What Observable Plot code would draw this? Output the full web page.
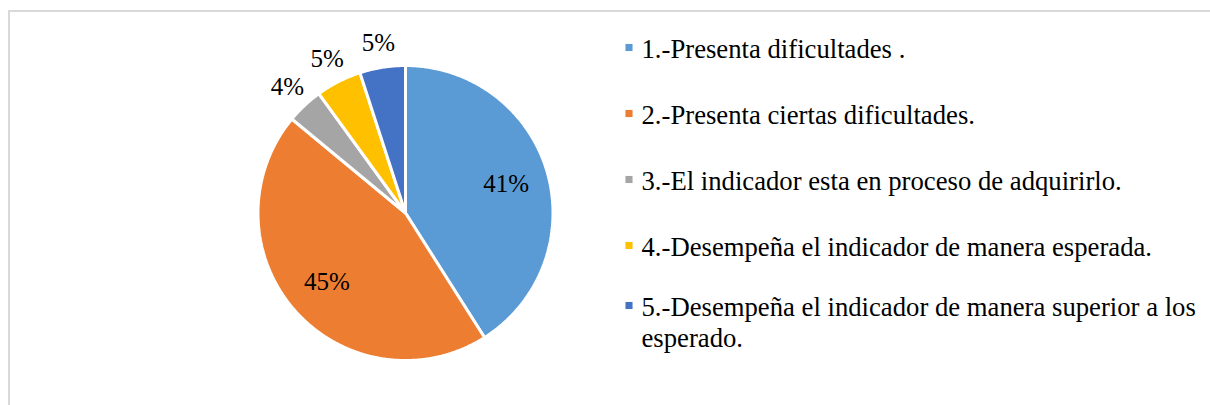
<!DOCTYPE html>
<html><head><meta charset="utf-8">
<script src="https://cdn.jsdelivr.net/npm/d3@7"></script>
<script src="https://cdn.jsdelivr.net/npm/@observablehq/plot@0.6"></script>
<style>
html,body{margin:0;padding:0;background:#fff;overflow:hidden;font-family:'Liberation Serif';}
#frame{position:absolute;left:8px;top:10px;width:1300px;height:500px;border-left:2px solid #d9d9d9;border-top:2px solid #d9d9d9;}
#chart{position:absolute;left:0;top:0;}
</style></head><body>
<div id="frame"></div><div id="chart"></div>
<script>
// ---- data ----
const categories = [
  "1.-Presenta dificultades .",
  "2.-Presenta ciertas dificultades.",
  "3.-El indicador esta en proceso de adquirirlo.",
  "4.-Desempeña el indicador de manera esperada.",
  "5.-Desempeña el indicador de manera superior a los esperado."
];
const values = [41, 45, 4, 5, 5];
const valueLabels = ["41%", "45%", "4%", "5%", "5%"];
const colors = ["#5B9BD5", "#ED7D31", "#A5A5A5", "#FFC000", "#4472C4"];
const legendLines = [
  ["1.-Presenta dificultades ."],
  ["2.-Presenta ciertas dificultades."],
  ["3.-El indicador esta en proceso de adquirirlo."],
  ["4.-Desempeña el indicador de manera esperada."],
  ["5.-Desempeña el indicador de manera superior a los", "esperado."]
];

// ---- layout ----
const W = 1210, H = 405;
const cx = 405, cy = 212.5, R = 147.5;

const arcs = d3.pie().sort(null).value(d => d)(values);

// slice outlines
const slicePts = [];
arcs.forEach((a, i) => {
  const cat = categories[i];
  slicePts.push({x: cx, y: cy, cat});
  const n = Math.max(4, Math.ceil((a.endAngle - a.startAngle) / (Math.PI / 360)));
  for (let k = 0; k <= n; k++) {
    const t = a.startAngle + (a.endAngle - a.startAngle) * k / n;
    slicePts.push({x: cx + R * Math.sin(t), y: cy - R * Math.cos(t), cat});
  }
  slicePts.push({x: cx, y: cy, cat});
});

// data labels
const labelData = arcs.map((a, i) => {
  const mid = (a.startAngle + a.endAngle) / 2;
  const big = values[i] >= 10;
  const rl = big ? 0.71 * R : 1.17 * R;
  return {x: cx + rl * Math.sin(mid), y: cy - rl * Math.cos(mid), text: valueLabels[i]};
});

// legend
const legX = 628.5, legTextX = 641, legY0 = 48.5, legStep = 66, lineH = 31;
const legendMarkers = [], legendTexts = [];
legendLines.forEach((lines, i) => {
  const y0 = legY0 + legStep * i - (lines.length - 1) * 6;
  legendMarkers.push({x: legX, y: y0 - 1.5, cat: categories[i]});
  lines.forEach((t, j) => legendTexts.push({x: legTextX, y: y0 + j * lineH, text: t}));
});

const chart = Plot.plot({
  width: W, height: H,
  marginTop: 0, marginRight: 0, marginBottom: 0, marginLeft: 0,
  x: {type: "linear", domain: [0, W], range: [0, W], axis: null},
  y: {type: "linear", domain: [0, H], range: [0, H], axis: null},
  color: {domain: categories, range: colors},
  style: {background: "transparent", fontFamily: "Liberation Serif"},
  marks: [
    Plot.line(slicePts, {x: "x", y: "y", z: "cat", fill: "cat", stroke: "white", strokeWidth: 3, strokeLinejoin: "miter", curve: "linear"}),
    Plot.text(labelData, {x: "x", y: "y", text: "text", fontSize: 25, fill: "#000", fontFamily: "Liberation Serif"}),
    Plot.dot(legendMarkers, {x: "x", y: "y", fill: "cat", symbol: "square", r: 4}),
    Plot.text(legendTexts, {x: "x", y: "y", text: "text", textAnchor: "start", fontSize: 26.7, fill: "#000", fontFamily: "Liberation Serif"})
  ]
});
// make the serif face explicit on the root svg and on every text element
chart.setAttribute("font-family", "Liberation Serif");
chart.querySelectorAll("text").forEach(t => t.setAttribute("font-family", "Liberation Serif"));
document.getElementById("chart").appendChild(chart);
</script>
</body></html>
